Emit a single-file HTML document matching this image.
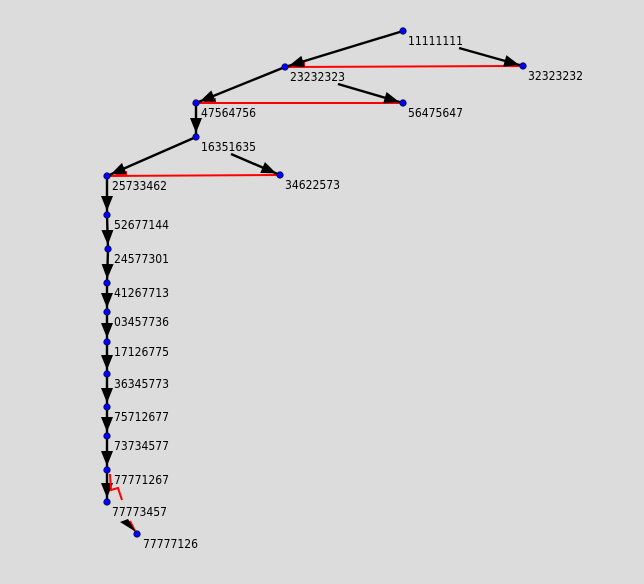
<!DOCTYPE html>
<html><head><style>
html,body{margin:0;padding:0;background:#dcdcdc;}
svg{display:block}
text{font-family:"DejaVu Sans","Liberation Sans",sans-serif;font-size:12px;fill:#000}
</style></head><body>
<svg width="644" height="584" viewBox="0 0 644 584" xmlns="http://www.w3.org/2000/svg">
<defs>
<marker id="a" markerUnits="userSpaceOnUse" markerWidth="20" markerHeight="14" refX="19" refY="6" orient="auto">
<path d="M0,0 L15,6 L0,12 Z" fill="#000"/>
</marker>
</defs>
<g stroke="red" stroke-width="2">
<line x1="285" y1="67" x2="523" y2="66"/>
<line x1="196" y1="103" x2="403" y2="103"/>
<line x1="107" y1="176" x2="280" y2="175"/>
</g>
<g fill="red">
<path d="M289,67 L305,62 L305,67 Z"/>
<path d="M200,103 L216,98 L216,103 Z"/>
<path d="M111,176 L127,171 L127,176 Z"/>
</g>
<g stroke="#000" stroke-width="2.4" marker-end="url(#a)">
<line x1="403" y1="31" x2="285" y2="67"/>
<line x1="459" y1="48" x2="523" y2="66"/>
<line x1="285" y1="67" x2="196" y2="103"/>
<line x1="338" y1="84" x2="403" y2="103"/>
<line x1="196" y1="103" x2="196" y2="137"/>
<line x1="196" y1="137" x2="107" y2="176"/>
<line x1="231" y1="154" x2="280" y2="175"/>
<line x1="107" y1="176" x2="107" y2="215"/>
<line x1="107" y1="215" x2="108" y2="249"/>
<line x1="108" y1="249" x2="107" y2="283"/>
<line x1="107" y1="283" x2="107" y2="312"/>
<line x1="107" y1="312" x2="107" y2="342"/>
<line x1="107" y1="342" x2="107" y2="374"/>
<line x1="107" y1="374" x2="107" y2="407"/>
<line x1="107" y1="407" x2="107" y2="436"/>
<line x1="107" y1="436" x2="107" y2="470"/>
<line x1="107" y1="470" x2="107" y2="502"/>
</g>
<g stroke="red" stroke-width="2" fill="none">
<path d="M110,474 L111,490 L118,488 L122,500"/>
<path d="M130,521 L135,531"/>
</g>
<path d="M120,522 L128,519 L136,532 Z" fill="#000"/>
<g fill="#0000ff" stroke="#000" stroke-width="0.6">
<circle cx="403" cy="31" r="3.3"/><circle cx="285" cy="67" r="3.3"/><circle cx="523" cy="66" r="3.3"/>
<circle cx="196" cy="103" r="3.3"/><circle cx="403" cy="103" r="3.3"/><circle cx="196" cy="137" r="3.3"/>
<circle cx="107" cy="176" r="3.3"/><circle cx="280" cy="175" r="3.3"/><circle cx="107" cy="215" r="3.3"/>
<circle cx="108" cy="249" r="3.3"/><circle cx="107" cy="283" r="3.3"/><circle cx="107" cy="312" r="3.3"/>
<circle cx="107" cy="342" r="3.3"/><circle cx="107" cy="374" r="3.3"/><circle cx="107" cy="407" r="3.3"/>
<circle cx="107" cy="436" r="3.3"/><circle cx="107" cy="470" r="3.3"/><circle cx="107" cy="502" r="3.3"/>
<circle cx="137" cy="534" r="3.3"/>
</g>
<g>
<text x="408" y="45" textLength="55" lengthAdjust="spacingAndGlyphs">11111111</text>
<text x="290" y="81" textLength="55" lengthAdjust="spacingAndGlyphs">23232323</text>
<text x="528" y="80" textLength="55" lengthAdjust="spacingAndGlyphs">32323232</text>
<text x="201" y="117" textLength="55" lengthAdjust="spacingAndGlyphs">47564756</text>
<text x="408" y="117" textLength="55" lengthAdjust="spacingAndGlyphs">56475647</text>
<text x="201" y="151" textLength="55" lengthAdjust="spacingAndGlyphs">16351635</text>
<text x="112" y="190" textLength="55" lengthAdjust="spacingAndGlyphs">25733462</text>
<text x="285" y="189" textLength="55" lengthAdjust="spacingAndGlyphs">34622573</text>
<text x="114" y="229" textLength="55" lengthAdjust="spacingAndGlyphs">52677144</text>
<text x="114" y="263" textLength="55" lengthAdjust="spacingAndGlyphs">24577301</text>
<text x="114" y="297" textLength="55" lengthAdjust="spacingAndGlyphs">41267713</text>
<text x="114" y="326" textLength="55" lengthAdjust="spacingAndGlyphs">03457736</text>
<text x="114" y="356" textLength="55" lengthAdjust="spacingAndGlyphs">17126775</text>
<text x="114" y="388" textLength="55" lengthAdjust="spacingAndGlyphs">36345773</text>
<text x="114" y="421" textLength="55" lengthAdjust="spacingAndGlyphs">75712677</text>
<text x="114" y="450" textLength="55" lengthAdjust="spacingAndGlyphs">73734577</text>
<text x="114" y="484" textLength="55" lengthAdjust="spacingAndGlyphs">77771267</text>
<text x="112" y="516" textLength="55" lengthAdjust="spacingAndGlyphs">77773457</text>
<text x="143" y="548" textLength="55" lengthAdjust="spacingAndGlyphs">77777126</text>
</g>
</svg>
</body></html>
